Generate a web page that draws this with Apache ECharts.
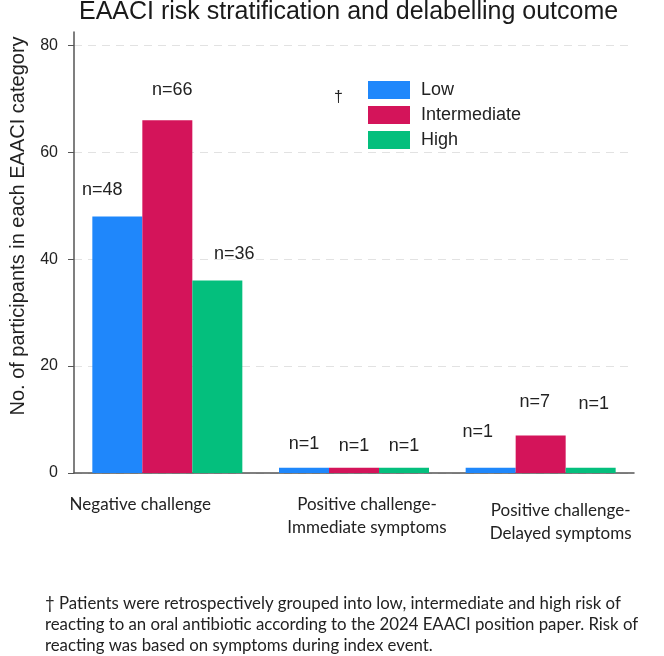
<!DOCTYPE html>
<html>
<head>
<meta charset="utf-8">
<script src="https://cdn.jsdelivr.net/npm/echarts@6/dist/echarts.min.js"></script>
<style>
  html, body { margin: 0; padding: 0; background: #fff; }
  #chart { width: 664px; height: 656px; }
</style>
</head>
<body>
<div id="chart"></div>
<script>
// data
const categories = [
  'Negative challenge',
  'Positive challenge-\nImmediate symptoms',
  'Positive challenge-\nDelayed symptoms'
]
const riskGroups = ['Low', 'Intermediate', 'High']
const lowValues = [48, 1, 1]
const intermediateValues = [66, 1, 7]
const highValues = [36, 1, 1]
const yTicks = [0, 20, 40, 60, 80]

const colors = ['#1f87fb', '#d4145a', '#04bf7d']
// the "n=" annotations were placed by hand in the original, [dx, dy] per bar
const labelShift = [
  [[-15, -17], [0, -15], [-13, -27]],
  [[5, -21], [0, -13], [-6, -25]],
  [[17, -18], [0, -13], [3, -55]]
]
// category labels sit a little off the group centres
const catPad = [[0, 54, 0, 0], [0, 0, 0, 26], [0, 0, 0, 40]]

const sans = 'Liberation Sans, Arial, sans-serif'
const humanist = 'Lato, Open Sans, sans-serif'

function buildSeries(name, values, s) {
  return {
    name,
    type: 'bar',
    barWidth: 50,
    barGap: '0%',
    itemStyle: { color: colors[s] },
    label: {
      show: true,
      position: 'top',
      distance: 0,
      fontFamily: sans,
      fontSize: 18,
      color: '#222',
      formatter: p => 'n=' + p.value
    },
    data: values.map((v, i) => ({ value: v, label: { offset: labelShift[s][i] } }))
  }
}

function catRich(pad) {
  return { fontFamily: humanist, fontSize: 17, color: '#222', lineHeight: 23, padding: pad }
}

function catLabel(val, idx) {
  const lines = val.split('\n').map(l => `{c${idx}|${l}}`)
  // third label hangs a few pixels lower in the original
  if (idx === 2) lines.unshift('{gap|}')
  return lines.join('\n')
}

const chart = echarts.init(document.getElementById('chart'), null, { renderer: 'canvas' })
chart.setOption({
  animation: false,
  backgroundColor: '#fff',
  title: {
    text: 'EAACI risk stratification and delabelling outcome',
    left: 79,
    top: 0,
    padding: 0,
    textStyle: { fontFamily: sans, fontSize: 25, fontWeight: 'normal', color: '#1a1a1a' }
  },
  legend: {
    data: riskGroups,
    orient: 'vertical',
    left: 368,
    top: 81,
    padding: 0,
    itemWidth: 42,
    itemHeight: 18,
    itemGap: 7,
    icon: 'rect',
    textStyle: { fontFamily: sans, fontSize: 18, color: '#222', padding: [0, 0, 0, 6] }
  },
  grid: { left: 65, right: 30, top: 32, bottom: 183, containLabel: false },
  xAxis: {
    type: 'category',
    data: categories,
    axisLine: { lineStyle: { color: '#555', width: 1.5 } },
    axisTick: { show: false },
    axisLabel: {
      margin: 20,
      interval: 0,
      formatter: catLabel,
      rich: {
        c0: catRich(catPad[0]),
        c1: catRich(catPad[1]),
        c2: catRich(catPad[2]),
        gap: { lineHeight: 6, height: 6, fontSize: 6 }
      }
    }
  },
  yAxis: {
    type: 'value',
    min: 0,
    max: 82.5,
    interval: 20,
    name: 'No. of participants in each EAACI category',
    nameLocation: 'middle',
    nameGap: 46,
    nameTextStyle: { fontFamily: sans, fontSize: 20, color: '#222', padding: [0, 0, 0, 53] },
    axisLine: { show: true, lineStyle: { color: '#555', width: 1.5 } },
    axisTick: { show: true, length: 6, customValues: yTicks, lineStyle: { color: '#555' } },
    axisLabel: { customValues: yTicks, fontFamily: sans, fontSize: 16, color: '#222', margin: 16 },
    splitLine: { show: true, lineStyle: { color: '#e2e2e2', type: [8, 6], width: 1.2 } }
  },
  graphic: [
    {
      type: 'text',
      left: 334,
      top: 90,
      style: { text: '†', fontFamily: sans, fontSize: 16, fill: '#222' }
    },
    {
      type: 'text',
      left: 45,
      top: 593,
      style: {
        text: '† Patients were retrospectively grouped into low, intermediate and high risk of\n' +
              'reacting to an oral antibiotic according to the 2024 EAACI position paper. Risk of\n' +
              'reacting was based on symptoms during index event.',
        fontFamily: humanist,
        fontSize: 16.8,
        lineHeight: 21,
        fill: '#222'
      }
    }
  ],
  series: [
    buildSeries(riskGroups[0], lowValues, 0),
    buildSeries(riskGroups[1], intermediateValues, 1),
    buildSeries(riskGroups[2], highValues, 2)
  ]
})
</script>
</body>
</html>
